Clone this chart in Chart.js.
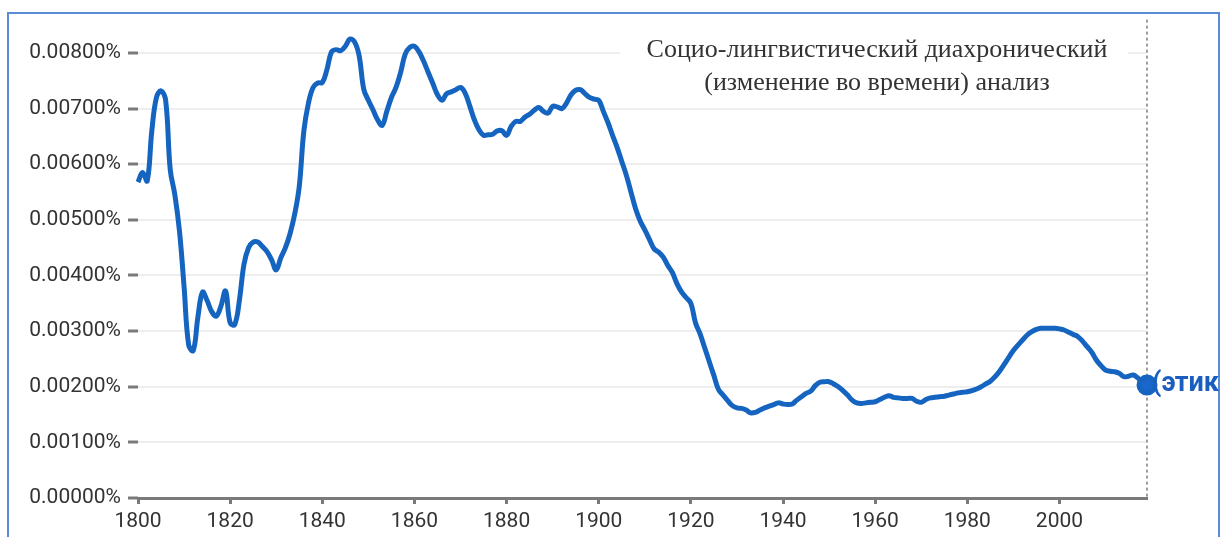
<!DOCTYPE html>
<html>
<head>
<meta charset="utf-8">
<script src="https://cdn.jsdelivr.net/npm/chart.js@4"></script>
<style>
  html, body { margin: 0; padding: 0; background: #fff; }
  #wrap { position: relative; width: 1220px; height: 537px; overflow: hidden; }
  #frame { position: absolute; left: 7px; top: 12px; width: 1209px; height: 540px;
           border-left: 2px solid #5b8bd9; border-top: 2px solid #5b8bd9; border-right: 2px solid #5b8bd9; }
  #myChart { position: absolute; left: 0; top: 0; }
</style>
</head>
<body>
<div id="wrap">
  <div id="frame"></div>
  <canvas id="myChart" width="1220" height="537"></canvas>
</div>
<script>
const ctx = document.getElementById('myChart');

// years 1800..2019
const firstYear = 1800;
const lastYear = 2019;
const years = Array.from({ length: lastYear - firstYear + 1 }, (_, i) => firstYear + i);

// frequency of the word, in percent
const freq = [
  0.00568, 0.00585, 0.00570, 0.00660, 0.00720, 0.00732, 0.00715, 0.00590, 0.00545, 0.00480,
  0.00380, 0.00275, 0.00265, 0.00325, 0.00370, 0.00355, 0.00335, 0.00327, 0.00345, 0.00372,
  0.00315, 0.00312, 0.00355, 0.00420, 0.00450, 0.00460, 0.00460, 0.00452, 0.00443, 0.00428,
  0.00410, 0.00432, 0.00450, 0.00475, 0.00510, 0.00560, 0.00660, 0.00710, 0.00738, 0.00746,
  0.00747, 0.00770, 0.00802, 0.00806, 0.00804, 0.00812, 0.00825, 0.00820, 0.00795, 0.00735,
  0.00715, 0.00698, 0.00680, 0.00670, 0.00695, 0.00720, 0.00738, 0.00765, 0.00798, 0.00810,
  0.00812, 0.00802, 0.00785, 0.00765, 0.00745, 0.00725, 0.00715, 0.00727, 0.00730, 0.00734,
  0.00738, 0.00728, 0.00705, 0.00680, 0.00662, 0.00652, 0.00653, 0.00654, 0.00660, 0.00660,
  0.00652, 0.00668, 0.00677, 0.00677, 0.00685, 0.00690, 0.00697, 0.00702, 0.00695, 0.00692,
  0.00704, 0.00703, 0.00700, 0.00710, 0.00725, 0.00733, 0.00734, 0.00727, 0.00720, 0.00717,
  0.00715, 0.00695, 0.00675, 0.00652, 0.00630, 0.00605, 0.00580, 0.00550, 0.00520, 0.00498,
  0.00482, 0.00465, 0.00448, 0.00442, 0.00433, 0.00418, 0.00405, 0.00385, 0.00370, 0.00360,
  0.00350, 0.00315, 0.00295, 0.00270, 0.00245, 0.00220, 0.00195, 0.00185, 0.00175, 0.00166,
  0.00162, 0.00161, 0.00158, 0.00153, 0.00154, 0.00158, 0.00162, 0.00165, 0.00168, 0.00171,
  0.00169, 0.00168, 0.00169, 0.00176, 0.00182, 0.00188, 0.00192, 0.00202, 0.00208, 0.00209,
  0.00209, 0.00205, 0.00200, 0.00193, 0.00185, 0.00176, 0.00171, 0.00170, 0.00171, 0.00172,
  0.00173, 0.00177, 0.00181, 0.00184, 0.00181, 0.00180, 0.00179, 0.00179, 0.00179, 0.00174,
  0.00172, 0.00177, 0.00180, 0.00181, 0.00182, 0.00183, 0.00185, 0.00187, 0.00189, 0.00190,
  0.00191, 0.00193, 0.00196, 0.00200, 0.00205, 0.00210, 0.00218, 0.00228, 0.00240, 0.00253,
  0.00265, 0.00275, 0.00284, 0.00293, 0.00299, 0.00303, 0.00305, 0.00305, 0.00305, 0.00305,
  0.00304, 0.00302, 0.00298, 0.00294, 0.00290, 0.00282, 0.00272, 0.00262, 0.00248, 0.00238,
  0.00230, 0.00228, 0.00227, 0.00224, 0.00218, 0.00219, 0.00221, 0.00216, 0.00208, 0.00203
];

const xTicks = [1800, 1820, 1840, 1860, 1880, 1900, 1920, 1940, 1960, 1980, 2000];
const yTicks = [0, 0.001, 0.002, 0.003, 0.004, 0.005, 0.006, 0.007, 0.008];

const seriesLabel = '(этика)';
const titleLines = ['Социо-лингвистический диахронический', '(изменение во времени) анализ'];

const lineColor = '#1565c0';

const overlay = {
  id: 'overlay',
  beforeDatasetsDraw(chart) {
    const c = chart.ctx;
    const area = chart.chartArea;
    const x = chart.scales.x.getPixelForValue(lastYear);
    // dotted marker line at the last year
    c.save();
    c.strokeStyle = '#9e9e9e';
    c.lineWidth = 2;
    c.setLineDash([3, 3]);
    c.beginPath();
    c.moveTo(x, area.top);
    c.lineTo(x, area.bottom);
    c.stroke();
    c.restore();
    // annotation box
    c.save();
    c.fillStyle = '#fff';
    c.fillRect(620, 26, 508, 72);
    c.fillStyle = '#333';
    c.font = '26px "Liberation Serif", "DejaVu Serif", serif';
    c.textAlign = 'center';
    c.textBaseline = 'middle';
    c.fillText(titleLines[0], 877, 50);
    c.fillText(titleLines[1], 877, 83);
    c.restore();
  },
  afterDatasetsDraw(chart) {
    const c = chart.ctx;
    const meta = chart.getDatasetMeta(0);
    const pt = meta.data[meta.data.length - 1];
    c.save();
    c.fillStyle = '#1a5fc0';
    c.font = 'bold 27px Roboto, "Liberation Sans", sans-serif';
    c.textAlign = 'left';
    c.textBaseline = 'middle';
    c.fillText(seriesLabel, pt.x + 5, pt.y - 1);
    c.restore();
  }
};

new Chart(ctx, {
  type: 'line',
  data: {
    datasets: [{
      label: seriesLabel,
      data: years.map((y, i) => ({ x: y, y: freq[i] })),
      borderColor: lineColor,
      backgroundColor: '#1a66cc',
      borderWidth: 5,
      tension: 0.4,
      fill: false,
      pointRadius: c => c.dataIndex === freq.length - 1 ? 8 : 0,
      pointHoverRadius: 0,
      clip: false
    }]
  },
  options: {
    responsive: false,
    animation: false,
    events: [],
    layout: { padding: { top: 15, right: 73, left: 0, bottom: 0 } },
    plugins: {
      legend: { display: false },
      tooltip: { enabled: false }
    },
    scales: {
      x: {
        type: 'linear',
        min: firstYear,
        max: lastYear,
        afterBuildTicks: s => { s.ticks = xTicks.map(v => ({ value: v })); },
        afterFit: s => { s.height = 39; },
        grid: { drawOnChartArea: false, drawTicks: true, tickLength: 6, tickWidth: 3, tickColor: '#7a7a7a' },
        border: { display: true, color: '#7a7a7a', width: 3 },
        ticks: {
          padding: 5,
          maxRotation: 0,
          color: '#333',
          font: { family: 'Roboto', size: 21 },
          callback: v => String(v)
        }
      },
      y: {
        min: 0,
        max: 0.0086,
        afterBuildTicks: s => { s.ticks = yTicks.map(v => ({ value: v })); },
        afterFit: s => { s.width = 138; },
        grid: { color: '#eeeeee', lineWidth: 2, drawTicks: true, tickLength: 10, tickWidth: 3, tickColor: '#7a7a7a' },
        border: { display: false },
        ticks: {
          padding: 7,
          color: '#333',
          font: { family: 'Roboto', size: 21 },
          callback: v => v.toFixed(5) + '%'
        }
      }
    }
  },
  plugins: [overlay]
});
</script>
</body>
</html>
